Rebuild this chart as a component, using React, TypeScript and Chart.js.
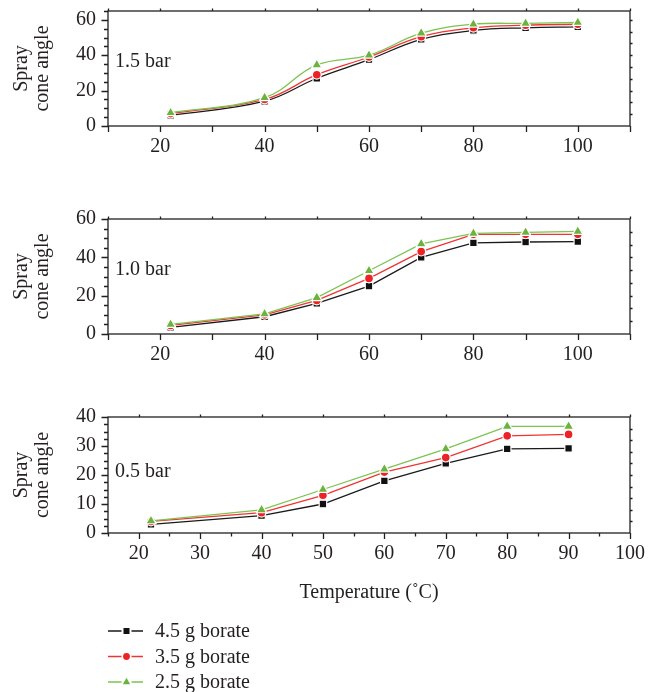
import React, { useEffect, useRef } from 'react';
import { Chart, registerables } from 'chart.js';

Chart.register(...registerables);

const FONT = '"Liberation Serif", "Times New Roman", serif';
const INK = '#231f20';

// ---- data ----
const temps15 = [22, 40, 50, 60, 70, 80, 90, 100];
const temps10 = [22, 40, 50, 60, 70, 80, 90, 100];
const temps05 = [22, 40, 50, 60, 70, 80, 90];

const bar15_45 = [6, 14, 27, 37.5, 49, 54, 55.5, 56];
const bar15_35 = [7, 15, 29, 39, 50.5, 55.5, 57, 57.5];
const bar15_25 = [7.5, 16, 34.5, 40, 52.5, 57.5, 58, 58.5];

const bar10_45 = [3.5, 9, 16, 25, 40, 47.5, 48, 48.2];
const bar10_35 = [4.5, 10, 17.5, 29, 43, 52, 52, 52];
const bar10_25 = [5, 10.5, 19, 33, 47, 52.5, 53, 53.5];

const bar05_45 = [3, 6, 10, 18, 24, 29, 29.2];
const bar05_35 = [4, 7, 13, 21, 26, 33.5, 34];
const bar05_25 = [4.2, 8, 15, 22, 29, 36.8, 36.8];

const seriesNames = ['4.5 g borate', '3.5 g borate', '2.5 g borate'];
const panelLabels = ['1.5 bar', '1.0 bar', '0.5 bar'];

const xTicksWide = [20, 40, 60, 80, 100];
const xTicksNarrow = [20, 30, 40, 50, 60, 70, 80, 90, 100];
const yTicks60 = [0, 20, 40, 60];
const yTicks40 = [0, 10, 20, 30, 40];

const yTitle = ['Spray', 'cone angle'];
const xTitle = 'Temperature (˚C)';

// ---- styles ----
const markerColors = ['#111111', '#ec2227', '#6ab43e'];
const lineColors = ['#1a1a1a', '#ef3434', '#7cc450'];
const pointStyles = ['rect', 'circle', 'triangle'];
const pointRadii = [5.3, 4.4, 5.9];

type PanelCfg = {
  label: string;
  xs: number[];
  series: number[][];
  xMin: number;
  xMax: number;
  xLabels: number[];
  xTickStep: number;
  xMajorStep: number;
  yMax: number;
  yLabels: number[];
  yTickStep: number;
  yMajorStep: number;
  rightStep: number;
  tension: number;
  top: number;
  height: number;
  areaTop: number;
  areaBottom: number;
  xHeight: number;
  labelDy: number;
  last: boolean;
};

const panels: PanelCfg[] = [
  {
    label: panelLabels[0], xs: temps15, series: [bar15_45, bar15_35, bar15_25],
    xMin: 10, xMax: 110, xLabels: xTicksWide, xTickStep: 10, xMajorStep: 10,
    yMax: 65, yLabels: yTicks60, yTickStep: 5, yMajorStep: 20, rightStep: 20 / 3,
    tension: 0.4, top: 0, height: 200, areaTop: 11, areaBottom: 126, xHeight: 50, labelDy: 56, last: false,
  },
  {
    label: panelLabels[1], xs: temps10, series: [bar10_45, bar10_35, bar10_25],
    xMin: 10, xMax: 110, xLabels: xTicksWide, xTickStep: 10, xMajorStep: 10,
    yMax: 60, yLabels: yTicks60, yTickStep: 5, yMajorStep: 20, rightStep: 20 / 3,
    tension: 0, top: 200, height: 200, areaTop: 219, areaBottom: 334, xHeight: 50, labelDy: 56, last: false,
  },
  {
    label: panelLabels[2], xs: temps05, series: [bar05_45, bar05_35, bar05_25],
    xMin: 15, xMax: 100, xLabels: xTicksNarrow, xTickStep: 5, xMajorStep: 10,
    yMax: 40, yLabels: yTicks40, yTickStep: 2.5, yMajorStep: 10, rightStep: 4,
    tension: 0, top: 400, height: 292, areaTop: 417, areaBottom: 533, xHeight: 80, labelDy: 60, last: true,
  },
];

function isMult(v: number, step: number) {
  const r = Math.abs(v / step - Math.round(v / step));
  return r < 1e-6;
}

function drawMarker(ctx: CanvasRenderingContext2D, style: string, x: number, y: number, r: number, color: string) {
  ctx.beginPath();
  if (style === 'rect') {
    ctx.rect(x - r, y - r, 2 * r, 2 * r);
  } else if (style === 'circle') {
    ctx.arc(x, y, r, 0, Math.PI * 2);
  } else {
    for (let i = 0; i < 3; i++) {
      const a = (i * 2 * Math.PI) / 3;
      const px = x + Math.sin(a) * r * 1.25;
      const py = y - Math.cos(a) * r * 1.25;
      if (i === 0) ctx.moveTo(px, py);
      else ctx.lineTo(px, py);
    }
    ctx.closePath();
  }
  ctx.fillStyle = color;
  ctx.fill();
}

function makeDecor(cfg: PanelCfg) {
  return {
    id: 'decor',
    afterDraw(chart: any) {
      const { ctx, chartArea: a } = chart;
      const x = chart.scales.x;
      const y = chart.scales.y;
      ctx.save();
      ctx.strokeStyle = INK;
      ctx.lineWidth = 1.3;
      ctx.strokeRect(a.left, a.top, a.right - a.left, a.bottom - a.top);
      ctx.beginPath();
      for (let v = cfg.xMin; v <= cfg.xMax + 1e-6; v += cfg.xTickStep) {
        const px = Math.round(x.getPixelForValue(v)) + 0.5;
        const len = isMult(v, cfg.xMajorStep) ? 6 : 3.5;
        ctx.moveTo(px, a.bottom);
        ctx.lineTo(px, a.bottom + len);
        if (isMult(v, 10)) {
          ctx.moveTo(px, a.top);
          ctx.lineTo(px, a.top - 2.5);
        }
      }
      for (let v = 0; v <= cfg.yMax + 1e-6; v += cfg.yTickStep) {
        const py = Math.round(y.getPixelForValue(v)) + 0.5;
        const len = isMult(v, cfg.yMajorStep) ? 6.5 : 4;
        ctx.moveTo(a.left, py);
        ctx.lineTo(a.left - len, py);
      }
      for (let v = cfg.rightStep; v <= cfg.yMax - 1; v += cfg.rightStep) {
        const py = Math.round(y.getPixelForValue(v)) + 0.5;
        ctx.moveTo(a.right, py);
        ctx.lineTo(a.right + 2.5, py);
      }
      ctx.stroke();

      ctx.fillStyle = INK;
      ctx.font = `20px ${FONT}`;
      ctx.textAlign = 'left';
      ctx.textBaseline = 'alphabetic';
      ctx.fillText(cfg.label, a.left + 7, a.top + cfg.labelDy);

      if (cfg.last) {
        [0, 1, 2].forEach((i) => {
          const cy = a.bottom + 98 + i * 25.5;
          const x0 = a.left;
          ctx.strokeStyle = lineColors[i];
          ctx.lineWidth = 1.3;
          ctx.beginPath();
          ctx.moveTo(x0, cy);
          ctx.lineTo(x0 + 13.5, cy);
          ctx.moveTo(x0 + 23.5, cy);
          ctx.lineTo(x0 + 35, cy);
          ctx.stroke();
          drawMarker(ctx, pointStyles[i], x0 + 18.5, cy, i === 0 ? 3 : 3.4, markerColors[i]);
          ctx.fillStyle = INK;
          ctx.font = `20px ${FONT}`;
          ctx.textBaseline = 'middle';
          ctx.fillText(seriesNames[i], x0 + 47, cy + 1);
        });
      }
      ctx.restore();
    },
  };
}

function Panel({ cfg }: { cfg: PanelCfg }) {
  const ref = useRef<HTMLCanvasElement>(null);
  useEffect(() => {
    const datasets = cfg.series.map((vals, i) => ({
      label: seriesNames[i],
      data: cfg.xs.map((xv, j) => ({ x: xv, y: vals[j] })),
      borderColor: lineColors[i],
      backgroundColor: markerColors[i],
      borderWidth: 1.3,
      tension: cfg.tension,
      pointStyle: pointStyles[i],
      pointRadius: pointRadii[i],
      pointBackgroundColor: markerColors[i],
      pointBorderColor: '#ffffff',
      pointBorderWidth: 1.2,
      order: 2 - i,
      fill: false,
    }));
    const tickFont = { family: FONT, size: 20, lineHeight: 1.2 };
    const padTop = cfg.areaTop - cfg.top;
    const padBottom = cfg.top + cfg.height - cfg.areaBottom - cfg.xHeight;
    const chart = new Chart(ref.current as HTMLCanvasElement, {
      type: 'line',
      data: { datasets: datasets as any },
      options: {
        responsive: false,
        animation: false,
        layout: { padding: { left: 0, right: 28, top: padTop, bottom: padBottom } },
        plugins: { legend: { display: false }, tooltip: { enabled: false } },
        scales: {
          x: {
            type: 'linear',
            min: cfg.xMin,
            max: cfg.xMax,
            afterBuildTicks: (s: any) => {
              s.ticks = cfg.xLabels.map((v) => ({ value: v }));
            },
            afterFit: (s: any) => {
              s.height = cfg.xHeight;
              s.paddingLeft = 0;
              s.paddingRight = 0;
            },
            grid: { display: false, drawTicks: false },
            border: { display: false },
            ticks: { font: tickFont, color: INK, padding: 9, maxRotation: 0, autoSkip: false },
            title: {
              display: cfg.last,
              text: xTitle,
              font: { family: FONT, size: 20, lineHeight: 1.2 },
              color: INK,
              padding: { top: 0, bottom: 8 },
            },
          },
          y: {
            type: 'linear',
            min: 0,
            max: cfg.yMax,
            afterBuildTicks: (s: any) => {
              s.ticks = cfg.yLabels.map((v) => ({ value: v }));
            },
            afterFit: (s: any) => {
              s.width = 108;
              s.paddingTop = 0;
              s.paddingBottom = 0;
            },
            grid: { display: false, drawTicks: false },
            border: { display: false },
            ticks: { font: tickFont, color: INK, padding: 12 },
            title: {
              display: true,
              text: yTitle,
              font: { family: FONT, size: 20, lineHeight: 1.05 },
              color: INK,
              padding: { top: 11.5, bottom: 0 },
            },
          },
        },
      } as any,
      plugins: [makeDecor(cfg)],
    });
    return () => chart.destroy();
  }, []);
  return (
    <canvas
      ref={ref}
      width={658}
      height={cfg.height}
      style={{ position: 'absolute', left: 0, top: cfg.top, width: 658, height: cfg.height }}
    />
  );
}

export default function App() {
  return (
    <div style={{ position: 'absolute', left: 0, top: 0, width: 658, height: 692, background: '#ffffff' }}>
      {panels.map((p, i) => (
        <Panel key={i} cfg={p} />
      ))}
    </div>
  );
}
